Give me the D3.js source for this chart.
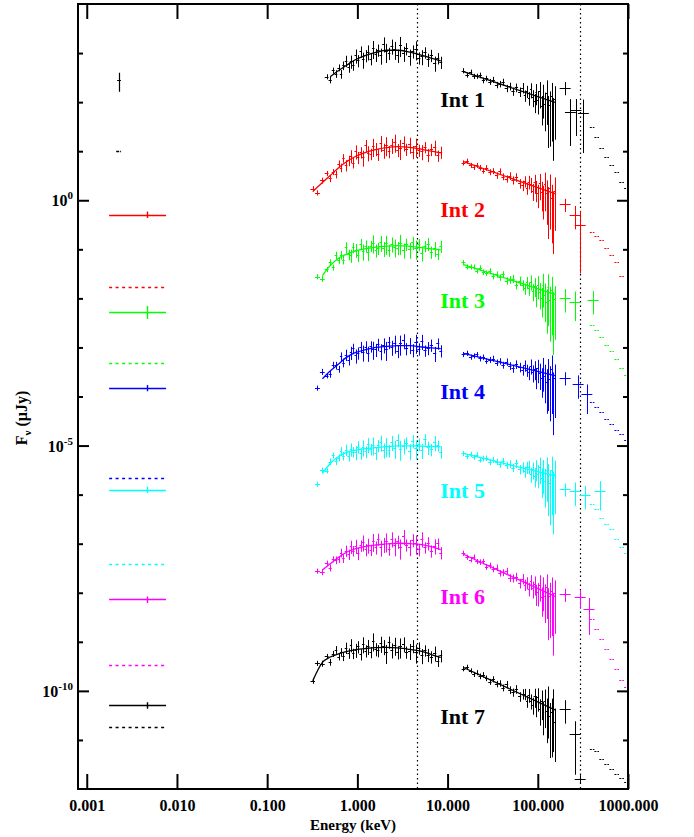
<!DOCTYPE html>
<html>
<head>
<meta charset="utf-8">
<script src="https://cdn.jsdelivr.net/npm/d3@7"></script>
<style>
  body { margin: 0; background: #fff; }
  svg { display: block; }
  text { font-family: "Liberation Serif", "Times New Roman", serif; font-weight: bold; fill: #000; }
</style>
</head>
<body>
<svg id="chart" width="694" height="837"></svg>
<script>
// ---- Series names and colours ----
const intervalNames = ["Int 1", "Int 2", "Int 3", "Int 4", "Int 5", "Int 6", "Int 7"];
const intervalColors = ["#000000", "#ff0000", "#00ff00", "#0000ff", "#00ffff", "#ff00ff", "#000000"];

// ---- Axis ticks ----
const xTickValues = [0.001, 0.01, 0.1, 1, 10, 100, 1000];
const xTickLabels = ["0.001", "0.010", "0.100", "1.000", "10.000", "100.000", "1000.000"];
const yMajorTicks = [1, 1e-5, 1e-10];
const yMajorExponents = ["0", "-5", "-10"];
const yMinorTicks = [1e3, 1e2, 1e1, 1e-1, 1e-2, 1e-3, 1e-4, 1e-6, 1e-7, 1e-8, 1e-9, 1e-11];

// ---- Reference energies (keV) marked by vertical dotted lines ----
const markerEnergies = [4.6, 295];

// ---- Soft X-ray band: energies (keV), relative errors, fluxes (uJy) ----
const softE = [0.32, 0.36, 0.41, 0.46, 0.50, 0.54, 0.58, 0.62, 0.66, 0.70, 0.75, 0.80, 0.85, 0.90, 0.96,
  1.02, 1.09, 1.16, 1.24, 1.32, 1.41, 1.50, 1.60, 1.70, 1.82, 1.95, 2.10, 2.25, 2.40, 2.60,
  2.80, 3.00, 3.25, 3.50, 3.80, 4.10, 4.45, 4.80, 5.20, 5.60, 6.10, 6.60, 7.20, 7.80, 8.40];
const softErr = [0.12, 0.12, 0.14, 0.12, 0.16, 0.14, 0.18, 0.16, 0.2, 0.2, 0.26, 0.24, 0.3, 0.24, 0.32,
  0.28, 0.26, 0.36, 0.28, 0.34, 0.26, 0.4, 0.3, 0.28, 0.36, 0.34, 0.42, 0.28, 0.34, 0.4,
  0.3, 0.44, 0.34, 0.28, 0.36, 0.3, 0.42, 0.28, 0.34, 0.26, 0.3, 0.28, 0.34, 0.26, 0.28];
const soft1 = [null, null, null, 330, 287, 442, 380, 506, 375, 561, 699, 522, 683, 573, 895,
  710, 1082, 748, 900, 1070, 758, 1260, 937, 1166, 905, 1557, 1083, 1000, 1404, 1208,
  900, 1478, 1000, 1242, 863, 1100, 1222, 809, 855, 1041, 746, 909, 631, 792, 656];
const soft2 = [1.73, 1.42, 2.53, 3.53, 2.78, 3.78, 3.40, 5.57, 4.64, 7.26, 5.22, 6.5, 8.05, 5.85, 9.95,
  7.55, 9.57, 7.55, 13.2, 9.4, 8.87, 12.7, 11.3, 8.77, 15.0, 10.6, 13.6, 9.96, 13.3, 15.5,
  10.8, 11.8, 14.9, 11.1, 13.8, 9.79, 12.7, 10.6, 9.92, 12.2, 8.55, 11.0, 12.2, 8.18, 9.66];
const soft3 = [null, 0.0277, 0.0252, 0.039, 0.0541, 0.0427, 0.0756, 0.0601, 0.077, 0.0614, 0.110, 0.0789, 0.0757, 0.109, 0.0977,
  0.0758, 0.129, 0.0919, 0.118, 0.0872, 0.118, 0.137, 0.0966, 0.106, 0.138, 0.105, 0.133, 0.0971, 0.130, 0.113,
  0.108, 0.137, 0.0979, 0.129, 0.100, 0.138, 0.106, 0.127, 0.0853, 0.117, 0.131, 0.0887, 0.105, 0.0813, 0.117];
const soft4 = [null, 1.49e-4, 3.20e-4, 2.66e-4, 2.87e-4, 4.48e-4, 4.31e-4, 3.63e-4, 6.6e-4, 4.91e-4, 7.13e-4, 5.64e-4, 7.92e-4, 9.58e-4, 6.87e-4,
  7.79e-4, 1.03e-3, 8.01e-4, 1.04e-3, 7.72e-4, 1.06e-3, 9.31e-4, 9.1e-4, 1.17e-3, 8.55e-4, 1.14e-3, 9.14e-4, 1.28e-3, 1.02e-3, 1.24e-3,
  8.61e-4, 1.21e-3, 1.39e-3, 9.57e-4, 1.14e-3, 8.96e-4, 1.28e-3, 9.46e-4, 1.35e-3, 8.7e-4, 9.9e-4, 1.13e-3, 7.66e-4, 1.21e-3, 8.65e-4];
const soft5 = [null, 1.64e-6, 3.11e-6, 3.07e-6, 4.73e-6, 6.3e-6, 4.87e-6, 5.7e-6, 7.74e-6, 6.19e-6, 8.28e-6, 6.23e-6, 8.47e-6, 7.51e-6, 7.37e-6,
  9.55e-6, 6.97e-6, 9.35e-6, 7.57e-6, 1.06e-5, 8.46e-6, 1.04e-5, 7.19e-6, 1.01e-5, 1.17e-5, 8.18e-6, 9.98e-6, 7.97e-6, 1.17e-5, 8.92e-6,
  1.31e-5, 8.7e-6, 1.0e-5, 1.15e-5, 7.82e-6, 1.25e-5, 8.92e-6, 1.08e-5, 8.05e-6, 1.35e-5, 9.22e-6, 8.35e-6, 1.16e-5, 1.01e-5, 7.51e-6];
const soft6 = [null, 2.78e-8, 2.64e-8, 4.03e-8, 3.24e-8, 4.84e-8, 4.66e-8, 4.82e-8, 6.56e-8, 5.06e-8, 7.26e-8, 6.09e-8, 8.83e-8, 7.22e-8, 9.09e-8,
  6.4e-8, 9.24e-8, 1.08e-7, 7.66e-8, 9.45e-8, 7.55e-8, 1.13e-7, 8.55e-8, 1.25e-7, 8.44e-8, 9.8e-8, 1.14e-7, 7.9e-8, 1.27e-7, 9.19e-8,
  1.12e-7, 8.47e-8, 1.42e-7, 9.6e-8, 8.7e-8, 1.2e-7, 1.03e-7, 7.66e-8, 1.27e-7, 8.46e-8, 1.04e-7, 7.22e-8, 9.13e-8, 1.01e-7, 6.61e-8];
const soft7 = [1.58e-10, 3.66e-10, 3.61e-10, 5.06e-10, 3.87e-10, 5.72e-10, 6.93e-10, 4.96e-10, 6.2e-10, 5.06e-10, 7.62e-10, 5.92e-10, 8.71e-10, 5.83e-10, 6.9e-10,
  8.05e-10, 5.61e-10, 9.07e-10, 6.64e-10, 8.14e-10, 6.23e-10, 1.06e-9, 7.22e-10, 6.7e-10, 9.32e-10, 8.09e-10, 6.08e-10, 1.0e-9, 6.92e-10, 8.63e-10,
  6.23e-10, 8.14e-10, 9.2e-10, 6.26e-10, 6.65e-10, 8.35e-10, 6.19e-10, 7.59e-10, 5.31e-10, 6.71e-10, 5.51e-10, 5.0e-10, 5.98e-10, 4.15e-10, 5.28e-10];

// ---- Fitted model through the soft band ----
const softModelE = [0.32, 0.41, 0.5, 0.62, 0.75, 0.96, 1.24, 1.6, 2.1, 2.8, 3.8, 5.2, 6.6, 8.4];
const softModel1 = [null, null, 330, 440, 555, 740, 900, 1030, 1140, 1140, 1040, 900, 790, 690];
const softModel2 = [1.5, 2.3, 3.2, 4.6, 6.0, 7.9, 9.5, 10.8, 11.8, 12.4, 12.0, 10.9, 10.0, 9.2];
const softModel3 = [null, 0.029, 0.047, 0.066, 0.079, 0.093, 0.103, 0.111, 0.116, 0.119, 0.115, 0.108, 0.102, 0.097];
const softModel4 = [null, 2.3e-4, 3.3e-4, 4.6e-4, 6.2e-4, 7.9e-4, 9.0e-4, 1.0e-3, 1.05e-3, 1.09e-3, 1.09e-3, 1.02e-3, 9.8e-4, 9.5e-4];
const softModel5 = [null, 2.7e-6, 4.3e-6, 6.0e-6, 7.2e-6, 8.1e-6, 8.7e-6, 9.1e-6, 9.5e-6, 9.9e-6, 9.9e-6, 9.7e-6, 9.6e-6, 9.5e-6];
const softModel6 = [null, 2.9e-8, 3.9e-8, 5.3e-8, 6.6e-8, 7.9e-8, 8.8e-8, 9.4e-8, 9.9e-8, 1.02e-7, 1.0e-7, 9.6e-8, 8.7e-8, 7.6e-8];
const softModel7 = [1.6e-10, 3.8e-10, 4.9e-10, 5.7e-10, 6.3e-10, 6.9e-10, 7.3e-10, 7.6e-10, 7.7e-10, 7.5e-10, 7.0e-10, 6.4e-10, 5.5e-10, 4.8e-10];

// ---- Hard X-ray band: energies (keV), relative errors, fluxes (uJy) ----
const hardE = [15, 16.5, 18, 19.5, 21, 23, 25, 27, 29.5, 32, 35, 38, 41, 45, 49, 53, 58, 63, 68, 72,
  76, 80, 84, 88, 92, 96, 100, 105, 110, 115, 120, 125, 130, 136, 142, 148, 154];
const hardErr = [0.12, 0.12, 0.12, 0.12, 0.12, 0.13, 0.13, 0.13, 0.14, 0.14, 0.15, 0.15, 0.16, 0.17, 0.18, 0.19, 0.2, 0.22, 0.24, 0.26,
  0.28, 0.31, 0.34, 0.38, 0.42, 0.46, 0.5, 0.55, 0.6, 0.66, 0.72, 0.78, 0.84, 0.86, 0.88, 0.9, 0.85];
const hard1 = [439, 359, 410, 337, 339, 353, 278, 305, 261, 287, 225, 235, 258, 192, 211, 166, 199, 163, 198, 137,
  168, 123, 181, 127, 103, 160, 112, 165, 83.5, 136, 90.9, 156, 72.6, 88.8, 131, 63.6, 114];
const hard2 = [5.80, 6.31, 5.16, 4.70, 5.17, 4.64, 4.00, 4.60, 3.76, 3.95, 3.22, 3.88, 3.04, 2.75, 3.15, 2.58, 2.96, 2.21, 2.02, 2.45,
  1.79, 2.40, 2.13, 1.56, 2.32, 1.69, 1.38, 2.22, 1.48, 1.19, 2.13, 1.43, 1.01, 1.80, 1.10, 0.80, 1.58];
const hard3 = [0.0539, 0.0440, 0.0440, 0.0440, 0.0364, 0.0417, 0.0343, 0.0327, 0.0360, 0.0283, 0.0309, 0.0267, 0.0308, 0.0230, 0.0241, 0.0253, 0.0190, 0.0228, 0.0188, 0.0159,
  0.0213, 0.0163, 0.0219, 0.0141, 0.0182, 0.0122, 0.0190, 0.0132, 0.0102, 0.0191, 0.0117, 0.00863, 0.0169, 0.00936, 0.0146, 0.00707, 0.00956];
const hard4 = [7.22e-4, 7.64e-4, 6.37e-4, 6.76e-4, 7.19e-4, 5.96e-4, 6.34e-4, 5.31e-4, 5.61e-4, 5.94e-4, 4.93e-4, 5.25e-4, 4.40e-4, 5.10e-4, 4.24e-4, 3.75e-4, 4.54e-4, 3.98e-4, 3.50e-4, 4.31e-4,
  3.48e-4, 3.11e-4, 4.24e-4, 3.12e-4, 3.70e-4, 2.61e-4, 3.73e-4, 3.01e-4, 2.36e-4, 3.68e-4, 2.59e-4, 2.02e-4, 3.16e-4, 2.23e-4, 3.66e-4, 1.63e-4, 2.43e-4];
const hard5 = [6.9e-6, 6.02e-6, 6.67e-6, 5.82e-6, 6.52e-6, 5.18e-6, 5.49e-6, 5.57e-6, 4.63e-6, 5.16e-6, 4.71e-6, 4.13e-6, 4.83e-6, 4.00e-6, 4.25e-6, 3.56e-6, 4.31e-6, 3.29e-6, 3.68e-6, 2.97e-6,
  3.66e-6, 3.74e-6, 2.64e-6, 3.27e-6, 2.41e-6, 3.44e-6, 2.68e-6, 3.63e-6, 2.14e-6, 3.04e-6, 1.94e-6, 3.22e-6, 2.27e-6, 1.69e-6, 3.16e-6, 1.55e-6, 2.66e-6];
const hard6 = [6.41e-8, 5.34e-8, 4.75e-8, 5.37e-8, 4.35e-8, 4.24e-8, 4.35e-8, 3.37e-8, 3.60e-8, 3.04e-8, 3.27e-8, 2.52e-8, 2.59e-8, 2.76e-8, 2.03e-8, 1.99e-8, 2.12e-8, 1.57e-8, 1.94e-8, 1.47e-8,
  1.62e-8, 1.22e-8, 1.71e-8, 1.23e-8, 1.51e-8, 9.95e-9, 1.05e-8, 1.47e-8, 8.06e-9, 1.24e-8, 8.63e-9, 1.33e-8, 6.73e-9, 8.54e-9, 1.09e-8, 5.23e-9, 9.68e-9];
const hard7 = [2.85e-10, 3.05e-10, 2.57e-10, 2.18e-10, 2.36e-10, 1.99e-10, 2.13e-10, 1.82e-10, 1.54e-10, 1.74e-10, 1.39e-10, 1.43e-10, 1.16e-10, 1.36e-10, 1.05e-10, 9.37e-11, 1.09e-10, 7.70e-11, 8.73e-11, 8.71e-11,
  6.27e-11, 8.31e-11, 6.31e-11, 5.26e-11, 7.77e-11, 5.38e-11, 7.52e-11, 4.35e-11, 6.35e-11, 3.66e-11, 6.21e-11, 3.91e-11, 6.67e-11, 3.05e-11, 3.69e-11, 5.66e-11, 2.36e-11];

// ---- Power-law model through the hard band ----
const hardModelE = [15, 155];
const hardModel1 = [418, 99];
const hardModel2 = [6.1, 1.37];
const hardModel3 = [0.049, 0.0121];
const hardModel4 = [7.6e-4, 2.67e-4];
const hardModel5 = [6.9e-6, 2.42e-6];
const hardModel6 = [6.1e-8, 8.4e-9];
const hardModel7 = [3.0e-10, 4.1e-11];

// ---- Highest-energy bins with large errors ----
const highE1 = [201, 230, 265, 320];   const highF1 = [197, 64, 68, 61];            const highErr1 = [0.3, 0.8, 0.7, 0.85];
const highE2 = [201, 259, 295];        const highF2 = [0.82, 0.51, 0.32];           const highErr2 = [0.3, 0.5, 0.9];
const highE3 = [201, 259, 410];        const highF3 = [0.0103, 0.0086, 0.0094];     const highErr3 = [0.5, 0.6, 0.5];
const highE4 = [201, 280, 350];        const highF4 = [2.4e-4, 1.8e-4, 1.1e-4];     const highErr4 = [0.3, 0.5, 0.6];
const highE5 = [201, 259, 334, 490];   const highF5 = [1.3e-6, 1.18e-6, 1.0e-6, 1.18e-6]; const highErr5 = [0.3, 0.5, 0.5, 0.6];
const highE6 = [201, 295, 370];        const highF6 = [9.3e-9, 8.1e-9, 4.6e-9];     const highErr6 = [0.3, 0.4, 0.7];
const highE7 = [201, 259, 295];        const highF7 = [4.3e-11, 1.3e-11, 1.6e-12];  const highErr7 = [0.5, 0.85, 0.2];

// ---- Gamma-ray points shown as short dashes ----
const dashE = [400, 450, 510, 580, 660, 750, 850, 960];
const dash1 = [31.6, 19.8, 11.8, 7.7, 5.3, 3.85, 2.4, 1.8];
const dash2 = [0.23, 0.19, 0.158, 0.108, 0.078, 0.056, 0.029, 0.0104];
const dash3 = [2.9e-3, 2.3e-3, 1.6e-3, 1.14e-3, 8.3e-4, 5.7e-4, 3.9e-4, 2.7e-4];
const dash4 = [7.9e-5, 6.0e-5, 4.9e-5, 3.4e-5, 2.7e-5, 2.1e-5, 1.7e-5, 1.3e-5];
const dash5 = [6.3e-7, 5.0e-7, 3.4e-7, 2.5e-7, 1.95e-7, 1.23e-7, 8.5e-8, 6.5e-8];
const dash6 = [2.9e-9, 1.8e-9, 1.13e-9, 7.1e-10, 4.4e-10, 2.8e-10, 1.7e-10, 1.2e-10];
const dash7 = [6.5e-12, 5.9e-12, 4.1e-12, 3.2e-12, 2.6e-12, 2.0e-12, 1.7e-12, 1.4e-12];

// ---- Optical / UV ----
const opt1E = 0.00228, opt1F = 277, opt1Lo = 162, opt1Hi = 398;
const opt1DotE = [0.00212, 0.0024], opt1DotF = 10.3;
const uvBandE = [0.00177, 0.00757];   // band edges for Int 2 - Int 7
const uvCentreE = 0.00466;
const uvF = [0.51, 0.0054, 1.5e-4, 1.26e-6, 7.3e-9, 5.1e-11];
const uvErr = [0.15, 0.3, 0.15, 0.15, 0.15, 0.15];
const uvDotF = [0.0172, 4.9e-4, 2.2e-6, 3.8e-8, 3.3e-10, 1.8e-11];

// ---- Label anchors (keV, uJy) ----
const labelE = 8.3;
const labelF = [80, 0.466, 6.5e-3, 8.7e-5, 8.4e-7, 5.8e-9, 2.1e-11];

// ---- Assemble per-interval records ----
const softFlux = [soft1, soft2, soft3, soft4, soft5, soft6, soft7];
const softModels = [softModel1, softModel2, softModel3, softModel4, softModel5, softModel6, softModel7];
const hardFlux = [hard1, hard2, hard3, hard4, hard5, hard6, hard7];
const hardModels = [hardModel1, hardModel2, hardModel3, hardModel4, hardModel5, hardModel6, hardModel7];
const highE = [highE1, highE2, highE3, highE4, highE5, highE6, highE7];
const highF = [highF1, highF2, highF3, highF4, highF5, highF6, highF7];
const highErr = [highErr1, highErr2, highErr3, highErr4, highErr5, highErr6, highErr7];
const dashF = [dash1, dash2, dash3, dash4, dash5, dash6, dash7];

// ---- Layout ----
const frame = { left: 78, right: 628, top: 4, bottom: 789 };
const x = d3.scaleLog().domain([8e-4, 1000]).range([frame.left, frame.right]);
const y = d3.scaleLog().domain([1e-12, 1e4]).range([frame.bottom, frame.top]);

const svg = d3.select("#chart");
svg.append("defs").append("clipPath").attr("id", "plotClip")
  .append("rect")
  .attr("x", frame.left).attr("y", frame.top)
  .attr("width", frame.right - frame.left).attr("height", frame.bottom - frame.top);

const snap = v => Math.round(v) + 0.5;

function binEdges(E) {
  return E.map((e, i) => {
    const lo = i > 0 ? Math.sqrt(E[i - 1] * e) : e * Math.sqrt(e / E[i + 1]);
    const hi = i < E.length - 1 ? Math.sqrt(e * E[i + 1]) : e * Math.sqrt(e / E[i - 1]);
    return [lo, hi];
  });
}

// path of error crosses: horizontal bin bar + vertical error bar
function crossPath(items) {
  const p = d3.path();
  items.forEach(d => {
    const yc = snap(y(d.f)), xc = snap(x(d.e));
    p.moveTo(x(d.eLo), yc); p.lineTo(x(d.eHi), yc);
    p.moveTo(xc, y(d.fLo)); p.lineTo(xc, y(d.fHi));
  });
  return p.toString();
}

const plotG = svg.append("g").attr("clip-path", "url(#plotClip)");

// vertical marker lines
plotG.selectAll("line.marker").data(markerEnergies).join("line")
  .attr("class", "marker")
  .attr("x1", d => snap(x(d))).attr("x2", d => snap(x(d)))
  .attr("y1", frame.top).attr("y2", frame.bottom)
  .attr("stroke", "#000").attr("stroke-width", 1.2)
  .attr("stroke-dasharray", "1.5,3");

const softBins = binEdges(softE);
const hardBins = binEdges(hardE);
const modelLine = d3.line()
  .defined(d => d[1] != null)
  .x(d => x(d[0])).y(d => y(d[1]))
  .curve(d3.curveMonotoneX);

intervalNames.forEach((name, k) => {
  const col = intervalColors[k];
  const g = plotG.append("g").attr("class", "interval");

  // soft band data
  const softItems = softE.map((e, i) => ({
    e, f: softFlux[k][i], eLo: softBins[i][0], eHi: softBins[i][1],
    fLo: softFlux[k][i] * (1 - softErr[i]), fHi: softFlux[k][i] * (1 + softErr[i])
  })).filter(d => d.f != null);
  g.append("path").attr("d", crossPath(softItems))
    .attr("fill", "none").attr("stroke", col).attr("stroke-width", 1);

  // soft band model
  g.append("path")
    .attr("d", modelLine(softModelE.map((e, i) => [e, softModels[k][i]])))
    .attr("fill", "none").attr("stroke", col).attr("stroke-width", 1.3);

  // hard band data
  const hardItems = hardE.map((e, i) => ({
    e, f: hardFlux[k][i], eLo: hardBins[i][0], eHi: hardBins[i][1],
    fLo: hardFlux[k][i] * (1 - hardErr[i]), fHi: hardFlux[k][i] * (1 + hardErr[i])
  }));
  g.append("path").attr("d", crossPath(hardItems))
    .attr("fill", "none").attr("stroke", col).attr("stroke-width", 1);

  // hard band power-law model
  g.append("path")
    .attr("d", d3.line().x(d => x(d[0])).y(d => y(d[1]))(hardModelE.map((e, i) => [e, hardModels[k][i]])))
    .attr("fill", "none").attr("stroke", col).attr("stroke-width", 1.3);

  // highest-energy bins
  const highItems = highE[k].map((e, i) => ({
    e, f: highF[k][i], eLo: e / 1.15, eHi: e * 1.15,
    fLo: highF[k][i] * (1 - highErr[k][i]), fHi: highF[k][i] * (1 + highErr[k][i])
  }));
  g.append("path").attr("d", crossPath(highItems))
    .attr("fill", "none").attr("stroke", col).attr("stroke-width", 1);

  // gamma-ray dashes
  g.selectAll("line.dash").data(dashE.map((e, i) => [e, dashF[k][i]])).join("line")
    .attr("class", "dash")
    .attr("x1", d => x(d[0] / 1.06)).attr("x2", d => x(d[0] * 1.06))
    .attr("y1", d => snap(y(d[1]))).attr("y2", d => snap(y(d[1])))
    .attr("stroke", col).attr("stroke-width", 1.2).attr("stroke-dasharray", "2,1");

  // optical / UV
  if (k === 0) {
    g.append("path").attr("d", crossPath([{ e: opt1E, f: opt1F, eLo: opt1E / 1.05, eHi: opt1E * 1.05, fLo: opt1Lo, fHi: opt1Hi }]))
      .attr("fill", "none").attr("stroke", col).attr("stroke-width", 1.2);
    g.append("line")
      .attr("x1", x(opt1DotE[0])).attr("x2", x(opt1DotE[1]))
      .attr("y1", snap(y(opt1DotF))).attr("y2", snap(y(opt1DotF)))
      .attr("stroke", col).attr("stroke-width", 1.5).attr("stroke-dasharray", "3,1");
  } else {
    const j = k - 1;
    g.append("path").attr("d", crossPath([{ e: uvCentreE, f: uvF[j], eLo: uvBandE[0], eHi: uvBandE[1], fLo: uvF[j] * (1 - uvErr[j]), fHi: uvF[j] * (1 + uvErr[j]) }]))
      .attr("fill", "none").attr("stroke", col).attr("stroke-width", 1.4);
    g.append("line")
      .attr("x1", x(uvBandE[0])).attr("x2", x(uvBandE[1]))
      .attr("y1", snap(y(uvDotF[j]))).attr("y2", snap(y(uvDotF[j])))
      .attr("stroke", col).attr("stroke-width", 1.6).attr("stroke-dasharray", "3,3.5");
  }
});

// interval labels
svg.selectAll("text.intlabel").data(intervalNames).join("text")
  .attr("class", "intlabel")
  .attr("x", x(labelE)).attr("y", (d, i) => y(labelF[i]))
  .style("fill", (d, i) => intervalColors[i])
  .attr("font-size", 22)
  .text(d => d);

// ---- Axes ----
const axisStyle = sel => {
  sel.select(".domain").remove();
  sel.selectAll(".tick line").attr("stroke", "#000").attr("stroke-width", 2);
};

svg.append("g").attr("transform", `translate(0,${frame.bottom})`)
  .call(d3.axisBottom(x).tickValues(xTickValues).tickSizeInner(-15).tickSizeOuter(0).tickPadding(11)
    .tickFormat((d, i) => xTickLabels[i]))
  .call(axisStyle)
  .call(sel => sel.selectAll("text").attr("font-size", 16).attr("font-family", null).style("fill", "#000"));

svg.append("g").attr("transform", `translate(0,${frame.top})`)
  .call(d3.axisTop(x).tickValues(xTickValues).tickSizeInner(-15).tickSizeOuter(0).tickFormat(""))
  .call(axisStyle);

[[yMinorTicks, -5], [yMajorTicks, -11]].forEach(([vals, len]) => {
  svg.append("g").attr("transform", `translate(${frame.left},0)`)
    .call(d3.axisLeft(y).tickValues(vals).tickSizeInner(len).tickSizeOuter(0).tickFormat(""))
    .call(axisStyle);
  svg.append("g").attr("transform", `translate(${frame.right},0)`)
    .call(d3.axisRight(y).tickValues(vals).tickSizeInner(len).tickSizeOuter(0).tickFormat(""))
    .call(axisStyle);
});

// y tick labels as 10^n
yMajorTicks.forEach((v, i) => {
  const t = svg.append("text")
    .attr("x", frame.left - 5).attr("y", y(v) + 6)
    .attr("text-anchor", "end").attr("font-size", 16);
  t.append("tspan").text("10");
  t.append("tspan").attr("dy", -7).attr("font-size", 11).text(yMajorExponents[i]);
});

// frame
svg.append("rect")
  .attr("x", frame.left).attr("y", frame.top)
  .attr("width", frame.right - frame.left).attr("height", frame.bottom - frame.top)
  .attr("fill", "none").attr("stroke", "#000").attr("stroke-width", 2);

// axis titles
svg.append("text")
  .attr("x", (frame.left + frame.right) / 2).attr("y", 830)
  .attr("text-anchor", "middle").attr("font-size", 15)
  .text("Energy (keV)");

const yTitle = svg.append("text")
  .attr("transform", "translate(27,418) rotate(-90)")
  .attr("text-anchor", "middle").attr("font-size", 16);
yTitle.append("tspan").text("F");
yTitle.append("tspan").attr("dy", 4).attr("font-size", 11).text("ν");
yTitle.append("tspan").attr("dy", -4).text(" (μJy)");
</script>
</body>
</html>
